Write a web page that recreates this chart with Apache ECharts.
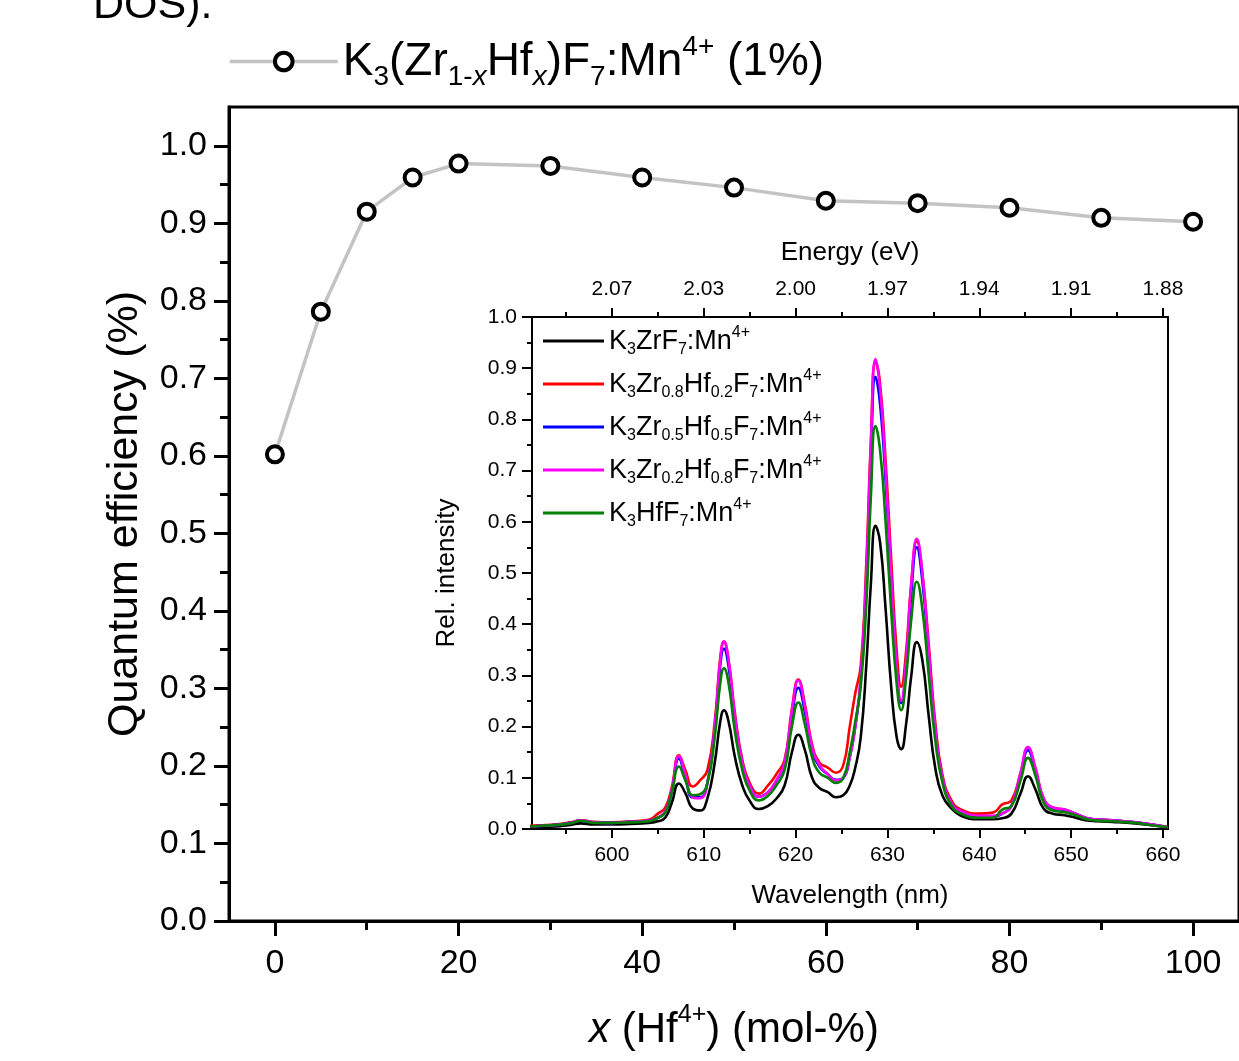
<!DOCTYPE html>
<html><head><meta charset="utf-8">
<script src="https://cdn.jsdelivr.net/npm/echarts@6/dist/echarts.min.js"></script>
<style>html,body{margin:0;padding:0;background:#fff}#c{width:1239px;height:1061px}</style>
</head><body><div id="c"></div>
<script>
// ---------- main chart data ----------
const hfContent = [0, 5, 10, 15, 20, 30, 40, 50, 60, 70, 80, 90, 100];
const quantumEff = [0.602, 0.786, 0.915, 0.959, 0.977, 0.974, 0.959, 0.946, 0.929, 0.926, 0.920, 0.907, 0.902];
const qeXTicks = [0, 20, 40, 60, 80, 100];
const qeXMinorTicks = [10, 30, 50, 70, 90];
const qeYTicks = [0, 0.1, 0.2, 0.3, 0.4, 0.5, 0.6, 0.7, 0.8, 0.9, 1.0];
const qeYMinorTicks = [0.05, 0.15, 0.25, 0.35, 0.45, 0.55, 0.65, 0.75, 0.85, 0.95];

// ---------- inset spectra data ----------
const wavelength = [590,592,594,595.5,596.6,598,600,602,604,605,
  605.8,606.5,607.3,608,608.8,609.6,610.4,611.2,611.8,612.2,
  612.7,613.4,614.2,615,616,617,617.9,618.8,619.6,620.3,
  621,621.8,622.6,623.5,624.4,625.2,625.9,626.5,627.1,627.7,
  628.2,628.7,629.2,629.8,630.4,631,631.5,632,632.6,633.2,
  633.8,634.5,635.2,636,637,638,640,641.5,642.5,643.5,
  644.5,645.3,646.1,647,648,649.3,650.5,652,654.5,657,
  659,660.5];
const k3ZrF7 = [.003,.004,.005,.008,.011,.009,.009,.010,.012,.015,
  .022,.050,.089,.070,.040,.036,.060,.130,.210,.232,
  .210,.140,.085,.055,.039,.045,.059,.085,.150,.184,
  .155,.100,.080,.072,.062,.066,.085,.120,.180,.320,
  .480,.592,.560,.430,.280,.180,.156,.200,.300,.365,
  .330,.220,.120,.065,.040,.026,.019,.019,.021,.030,
  .070,.103,.078,.040,.030,.027,.022,.016,.014,.011,
  .007,.003];
const zr08hf02 = [.005,.007,.009,.013,.017,.014,.013,.015,.018,.030,
  .042,.080,.144,.115,.083,.095,.115,.210,.335,.366,
  .330,.225,.135,.090,.069,.085,.107,.135,.235,.292,
  .245,.165,.130,.120,.110,.125,.200,.265,.320,.520,
  .760,.912,.870,.720,.530,.350,.278,.340,.480,.562,
  .500,.360,.210,.105,.055,.038,.030,.032,.048,.056,
  .110,.158,.120,.060,.042,.038,.030,.020,.017,.013,
  .008,.004];
const zr05hf05 = [.005,.006,.008,.012,.016,.013,.012,.014,.016,.022,
  .033,.072,.138,.100,.062,.062,.090,.195,.320,.352,
  .318,.215,.128,.085,.063,.072,.094,.127,.220,.276,
  .230,.155,.122,.107,.096,.100,.140,.200,.290,.480,
  .720,.883,.830,.680,.490,.310,.246,.310,.460,.550,
  .485,.340,.195,.098,.050,.035,.025,.025,.030,.045,
  .105,.154,.115,.058,.041,.037,.030,.020,.017,.013,
  .008,.004];
const zr02hf08 = [.005,.006,.008,.012,.017,.013,.012,.014,.016,.022,
  .035,.075,.142,.105,.062,.060,.090,.200,.330,.366,
  .330,.220,.130,.085,.063,.072,.095,.130,.230,.290,
  .240,.160,.125,.107,.095,.100,.140,.200,.300,.500,
  .750,.918,.860,.700,.500,.320,.250,.320,.480,.567,
  .500,.350,.200,.100,.050,.035,.026,.026,.030,.045,
  .110,.160,.120,.060,.042,.038,.030,.020,.017,.013,
  .008,.004];
const k3HfF7 = [.005,.006,.008,.011,.016,.012,.012,.013,.015,.022,
  .032,.070,.122,.095,.066,.068,.090,.180,.285,.314,
  .285,.190,.115,.075,.056,.065,.085,.115,.200,.247,
  .205,.140,.110,.100,.090,.100,.150,.210,.280,.440,
  .650,.787,.740,.600,.430,.285,.232,.290,.410,.483,
  .430,.300,.175,.090,.045,.030,.022,.022,.038,.045,
  .095,.139,.105,.052,.036,.033,.027,.018,.015,.012,
  .007,.004];
const wlTicks = [600, 610, 620, 630, 640, 650, 660];
const wlMinorTicks = [595, 605, 615, 625, 635, 645, 655];
const energyLabels = ['2.07', '2.03', '2.00', '1.97', '1.94', '1.91', '1.88'];
const relTicks = [0, 0.1, 0.2, 0.3, 0.4, 0.5, 0.6, 0.7, 0.8, 0.9, 1.0];
const relMinorTicks = [0.05, 0.15, 0.25, 0.35, 0.45, 0.55, 0.65, 0.75, 0.85, 0.95];

const seriesNames = ['K3ZrF7', 'K3Zr0.8Hf0.2F7', 'K3Zr0.5Hf0.5F7', 'K3Zr0.2Hf0.8F7', 'K3HfF7'];
const seriesColors = ['#000000', '#ff0000', '#0000ff', '#ff00ff', '#008000'];
const seriesValues = [k3ZrF7, zr08hf02, zr05hf05, zr02hf08, k3HfF7];
const legendRichText = {
  'K3ZrF7': '{n|K}{s|3}{n|ZrF}{s|7}{n|:Mn}{u|4+}',
  'K3Zr0.8Hf0.2F7': '{n|K}{s|3}{n|Zr}{s|0.8}{n|Hf}{s|0.2}{n|F}{s|7}{n|:Mn}{u|4+}',
  'K3Zr0.5Hf0.5F7': '{n|K}{s|3}{n|Zr}{s|0.5}{n|Hf}{s|0.5}{n|F}{s|7}{n|:Mn}{u|4+}',
  'K3Zr0.2Hf0.8F7': '{n|K}{s|3}{n|Zr}{s|0.2}{n|Hf}{s|0.8}{n|F}{s|7}{n|:Mn}{u|4+}',
  'K3HfF7': '{n|K}{s|3}{n|HfF}{s|7}{n|:Mn}{u|4+}',
  'QE': '{n|K}{s|3}{n|(Zr}{s|1-}{si|x}{n|Hf}{si|x}{n|)F}{s|7}{n|:Mn}{u|4+}{n| (1%)}'
};

const FF = "'Liberation Sans', Arial, sans-serif";
function rich(F) {
  const s = Math.round(F * 0.6);
  const base = {fontFamily: FF, color: '#000', verticalAlign: 'top'};
  return {
    n: Object.assign({}, base, {fontSize: F, padding: [Math.round(F * 0.16), 0, 0, 0]}),
    i: Object.assign({}, base, {fontSize: F, fontStyle: 'italic', padding: [Math.round(F * 0.16), 0, 0, 0]}),
    s: Object.assign({}, base, {fontSize: s, padding: [Math.round(F * 0.68), 0, 0, 0]}),
    si: Object.assign({}, base, {fontSize: s, fontStyle: 'italic', padding: [Math.round(F * 0.68), 0, 0, 0]}),
    u: Object.assign({}, base, {fontSize: s, padding: [Math.round(F * 0.03), 0, 0, 0]})
  };
}

function tickAxis(extra) {
  return Object.assign({
    type: 'value',
    splitLine: {show: false},
    axisLine: {show: false, onZero: false},
    axisLabel: {show: false}
  }, extra);
}

const chart = echarts.init(document.getElementById('c'), null, {renderer: 'canvas'});
const spectraSeries = seriesNames.map((nm, k) => ({
  type: 'line', name: nm, xAxisIndex: 2, yAxisIndex: 2,
  data: wavelength.map((w, i) => [w, seriesValues[k][i]]),
  symbol: 'none', smooth: 0.5,
  lineStyle: {color: seriesColors[k], width: 2.6},
  itemStyle: {color: seriesColors[k]},
  z: 5 + k
}));

chart.setOption({
  animation: false,
  backgroundColor: '#fff',
  graphic: [{
    type: 'text', left: 93, top: -15,
    style: {text: 'DOS).', font: '43px ' + FF, fill: '#000'}
  }],
  grid: [
    {left: 229, top: 107, right: -48, bottom: 140, show: true, borderColor: '#000', borderWidth: 3, backgroundColor: 'transparent'},
    {left: 532, top: 317, right: 71, bottom: 232, show: true, borderColor: '#000', borderWidth: 2, backgroundColor: '#fff', z: 4}
  ],
  legend: [
    {
      data: ['QE'], left: 228, top: 33, padding: 0,
      itemWidth: 108, itemHeight: 22,
      itemStyle: {color: '#fff', borderColor: '#000', borderWidth: 4},
      lineStyle: {color: '#c3c3c3', width: 3.5},
      formatter: n => legendRichText[n],
      textStyle: {fontFamily: FF, rich: rich(46)}
    },
    {
      data: seriesNames, orient: 'vertical', left: 543, top: 325, padding: 0,
      icon: 'rect', itemWidth: 61, itemHeight: 3, itemGap: 10,
      formatter: n => legendRichText[n],
      textStyle: {fontFamily: FF, rich: rich(27)}
    }
  ],
  xAxis: [
    {
      type: 'value', gridIndex: 0, min: -5, max: 105, position: 'bottom',
      splitLine: {show: false},
      axisLine: {show: true, onZero: false, lineStyle: {color: '#000', width: 3}},
      axisTick: {show: true, inside: false, length: 15, customValues: qeXTicks, lineStyle: {color: '#000', width: 3}},
      axisLabel: {customValues: qeXTicks, fontSize: 34, fontFamily: FF, color: '#000', margin: 26},
      name: '{i|x}{n| (Hf}{u|4+}{n|) (mol-%)}', nameLocation: 'middle', nameGap: 81,
      nameTextStyle: {rich: rich(42)}
    },
    tickAxis({gridIndex: 0, min: -5, max: 105, position: 'bottom',
      axisTick: {show: true, inside: false, length: 9, customValues: qeXMinorTicks, lineStyle: {color: '#000', width: 3}},
      axisLabel: {show: false, customValues: qeXMinorTicks}}),
    {
      type: 'value', gridIndex: 1, min: 591.3, max: 660.55, position: 'bottom',
      splitLine: {show: false},
      axisLine: {show: true, onZero: false, lineStyle: {color: '#000', width: 2}},
      axisTick: {show: true, inside: false, length: 9, customValues: wlTicks, lineStyle: {color: '#000', width: 2}},
      axisLabel: {customValues: wlTicks, fontSize: 21, fontFamily: FF, color: '#000', margin: 16},
      name: 'Wavelength (nm)', nameLocation: 'middle', nameGap: 54,
      nameTextStyle: {fontSize: 26, fontFamily: FF, color: '#000'}
    },
    tickAxis({gridIndex: 1, min: 591.3, max: 660.55, position: 'bottom',
      axisTick: {show: true, inside: false, length: 5, customValues: wlMinorTicks, lineStyle: {color: '#000', width: 2}},
      axisLabel: {show: false, customValues: wlMinorTicks}}),
    {
      type: 'value', gridIndex: 1, min: 591.3, max: 660.55, position: 'top',
      splitLine: {show: false},
      axisLine: {show: true, onZero: false, lineStyle: {color: '#000', width: 2}},
      axisTick: {show: true, inside: false, length: 9, customValues: wlTicks, lineStyle: {color: '#000', width: 2}},
      axisLabel: {customValues: wlTicks, fontSize: 21, fontFamily: FF, color: '#000', margin: 17,
        formatter: v => energyLabels[wlTicks.indexOf(v)]},
      name: 'Energy (eV)', nameLocation: 'middle', nameGap: 51,
      nameTextStyle: {fontSize: 26, fontFamily: FF, color: '#000'}
    },
    tickAxis({gridIndex: 1, min: 591.3, max: 660.55, position: 'top',
      axisTick: {show: true, inside: false, length: 5, customValues: wlMinorTicks, lineStyle: {color: '#000', width: 2}},
      axisLabel: {show: false, customValues: wlMinorTicks}})
  ],
  yAxis: [
    {
      type: 'value', gridIndex: 0, min: 0, max: 1.05, position: 'left',
      splitLine: {show: false},
      axisLine: {show: true, onZero: false, lineStyle: {color: '#000', width: 3}},
      axisTick: {show: true, inside: false, length: 15, customValues: qeYTicks, lineStyle: {color: '#000', width: 3}},
      axisLabel: {customValues: qeYTicks, fontSize: 34, fontFamily: FF, color: '#000', margin: 22,
        formatter: v => v.toFixed(1)},
      name: 'Quantum efficiency (%)', nameLocation: 'middle', nameGap: 82,
      nameTextStyle: {fontSize: 43, fontFamily: FF, color: '#000'}
    },
    tickAxis({gridIndex: 0, min: 0, max: 1.05, position: 'left',
      axisTick: {show: true, inside: false, length: 9, customValues: qeYMinorTicks, lineStyle: {color: '#000', width: 3}},
      axisLabel: {show: false, customValues: qeYMinorTicks}}),
    {
      type: 'value', gridIndex: 1, min: 0, max: 1, position: 'left',
      splitLine: {show: false},
      axisLine: {show: true, onZero: false, lineStyle: {color: '#000', width: 2}},
      axisTick: {show: true, inside: false, length: 10, customValues: relTicks, lineStyle: {color: '#000', width: 2}},
      axisLabel: {customValues: relTicks, fontSize: 21, fontFamily: FF, color: '#000', margin: 15,
        formatter: v => v.toFixed(1)},
      name: 'Rel. intensity', nameLocation: 'middle', nameGap: 72,
      nameTextStyle: {fontSize: 26, fontFamily: FF, color: '#000'}
    },
    tickAxis({gridIndex: 1, min: 0, max: 1, position: 'left',
      axisTick: {show: true, inside: false, length: 5, customValues: relMinorTicks, lineStyle: {color: '#000', width: 2}},
      axisLabel: {show: false, customValues: relMinorTicks}})
  ],
  series: [
    {
      type: 'line', name: 'QE', xAxisIndex: 0, yAxisIndex: 0,
      data: hfContent.map((x, i) => [x, quantumEff[i]]),
      symbol: 'circle', symbolSize: 16,
      lineStyle: {color: '#c3c3c3', width: 3.5},
      itemStyle: {color: '#fff', borderColor: '#000', borderWidth: 4},
      z: 3
    }
  ].concat(spectraSeries)
});
</script>
</body></html>
